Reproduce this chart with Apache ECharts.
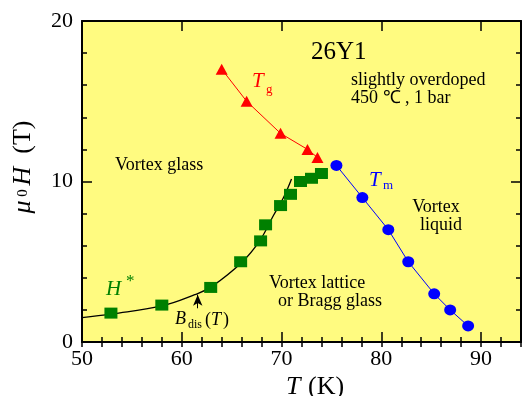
<!DOCTYPE html>
<html>
<head>
<meta charset="utf-8">
<script src="https://cdn.jsdelivr.net/npm/echarts@6/dist/echarts.min.js"></script>
<style>
  html, body { margin: 0; padding: 0; background: #fff; }
  #chart { width: 522px; height: 396px; }
</style>
</head>
<body>
<div id="chart"></div>
<script>
// T_g (vortex glass) - red triangles
const tgT = [64.0, 66.5, 69.9, 72.6, 73.6]
const tgH = [17.0, 15.0, 13.0, 12.0, 11.5]
// T_m (melting) - blue circles
const tmT = [75.5, 78.1, 80.7, 82.7, 85.3, 86.9, 88.7]
const tmH = [11, 9, 7, 5, 3, 2, 1]
// H* - green squares
const hStarT = [52.9, 58.0, 62.9, 65.9, 67.9, 68.4, 69.9, 70.9, 71.9, 73.0, 74.0]
const hStarH = [1.8, 2.3, 3.4, 5.0, 6.3, 7.3, 8.5, 9.2, 10.0, 10.2, 10.5]
// B_dis(T) curve
const bdisT = [50, 53, 58, 61.3, 63, 66, 67.8, 69.2, 70.2, 71]
const bdisH = [1.52, 1.75, 2.25, 2.95, 3.45, 4.95, 6.3, 7.9, 9.0, 10.15]
// arrow pointing at the curve
const arrowT = [61.6, 61.6]
const arrowH = [2.1, 2.95]

const xRange = [50, 94]
const yRange = [0, 20]
const majorStep = 10
const minorStep = 2

const serif = 'Liberation Serif'
const zip = (a, b) => a.map((v, i) => [v, b[i]])

const chart = echarts.init(document.getElementById('chart'))

const axisLine = { show: true, onZero: false, lineStyle: { color: '#000', width: 2 } }
const majorTick = { show: true, inside: true, length: 10, lineStyle: { color: '#000', width: 1.5 } }
const minorTick = { show: true, inside: true, length: 5, lineStyle: { color: '#000', width: 1.5 } }
const tickLabel = { color: '#000', fontFamily: serif, fontSize: 22 }

const makeX = (position, major) => ({
  type: 'value', position, min: xRange[0], max: xRange[1],
  interval: major ? majorStep : minorStep,
  axisLine: major ? axisLine : { show: false },
  axisTick: major ? majorTick : minorTick,
  axisLabel: major && position === 'bottom'
    ? { ...tickLabel, margin: 6, showMaxLabel: false }
    : { show: false },
  splitLine: { show: false },
})
const makeY = (position, major) => ({
  type: 'value', position, min: yRange[0], max: yRange[1],
  interval: major ? majorStep : minorStep,
  axisLine: major ? axisLine : { show: false },
  axisTick: major ? majorTick : minorTick,
  axisLabel: major && position === 'left' ? { ...tickLabel, margin: 9 } : { show: false },
  splitLine: { show: false },
})

const txt = (x, y, text, size, fill, opts = {}) => ({
  type: 'text', x, y, z: 100, rotation: opts.rotation || 0,
  style: {
    text, fill: fill || '#000',
    font: `${opts.italic ? 'italic ' : ''}${size}px "${serif}"`,
    align: opts.align || 'left', verticalAlign: 'middle',
    rich: opts.rich,
  },
})

chart.setOption({
  animation: false,
  grid: {
    left: 82, right: 1, top: 21, bottom: 54,
    show: true, backgroundColor: '#fffb80', borderWidth: 0,
  },
  xAxis: [makeX('bottom', true), makeX('bottom', false), makeX('top', true), makeX('top', false)],
  yAxis: [makeY('left', true), makeY('left', false), makeY('right', true), makeY('right', false)],
  series: [
    {
      type: 'line', data: zip(bdisT, bdisH), smooth: 0.4, showSymbol: false,
      lineStyle: { color: '#000', width: 1.3 }, z: 2,
      markLine: {
        silent: true, symbol: ['none', 'arrow'], symbolSize: [7, 11],
        label: { show: false },
        lineStyle: { color: '#000', width: 1, type: 'solid' },
        data: [[{ coord: [arrowT[0], arrowH[0]] }, { coord: [arrowT[1], arrowH[1]] }]],
      },
    },
    {
      type: 'scatter', data: zip(hStarT, hStarH), symbol: 'rect', symbolSize: [13, 11],
      itemStyle: { color: '#008000', opacity: 1 }, z: 3,
    },
    {
      type: 'line', data: zip(tgT, tgH), symbol: 'triangle', symbolSize: [12, 11], showAllSymbol: true,
      lineStyle: { color: '#ff0000', width: 1 }, itemStyle: { color: '#ff0000' }, z: 3,
    },
    {
      type: 'line', data: zip(tmT, tmH), symbol: 'circle', symbolSize: [12, 11], showAllSymbol: true,
      lineStyle: { color: '#0000ff', width: 1 }, itemStyle: { color: '#0000ff' }, z: 3,
    },
  ],
  graphic: [
    txt(311, 52, '26Y1', 25),
    txt(351, 80, 'slightly overdoped', 18),
    txt(351, 98, '450 ℃ , 1 bar', 18),
    txt(115, 165, 'Vortex glass', 18),
    txt(436, 207, 'Vortex', 18, '#000', { align: 'center' }),
    txt(441, 225, 'liquid', 18, '#000', { align: 'center' }),
    txt(269, 283, 'Vortex lattice', 18),
    txt(278, 301, 'or Bragg glass', 18),
    txt(252, 81, 'T', 21, '#ff0000', { italic: true }),
    txt(266, 90, 'g', 13, '#ff0000'),
    txt(369, 180, 'T', 21, '#0000ff', { italic: true }),
    txt(383, 186, 'm', 13, '#0000ff'),
    txt(106, 289, 'H', 21, '#008000', { italic: true }),
    txt(126, 282, '*', 17, '#008000'),
    txt(175, 319, 'B', 18, '#000', { italic: true }),
    txt(188, 325, 'dis', 12, '#000'),
    txt(205, 320, '(', 18, '#000'),
    txt(211, 320, 'T', 18, '#000', { italic: true }),
    txt(223, 320, ')', 18, '#000'),
    txt(286, 387, 'T', 26, '#000', { italic: true }),
    txt(308, 387, '(K)', 26, '#000'),
    txt(23, 167, '{i|μ}{s| 0 }{i|H}{n|  (T)}', 26, '#000', {
      align: 'center', rotation: Math.PI / 2,
      rich: {
        i: { fontFamily: serif, fontStyle: 'italic', fontSize: 26 },
        s: { fontFamily: serif, fontSize: 15, verticalAlign: 'middle' },
        n: { fontFamily: serif, fontSize: 26 },
      },
    }),
  ],
})
</script>
</body>
</html>
